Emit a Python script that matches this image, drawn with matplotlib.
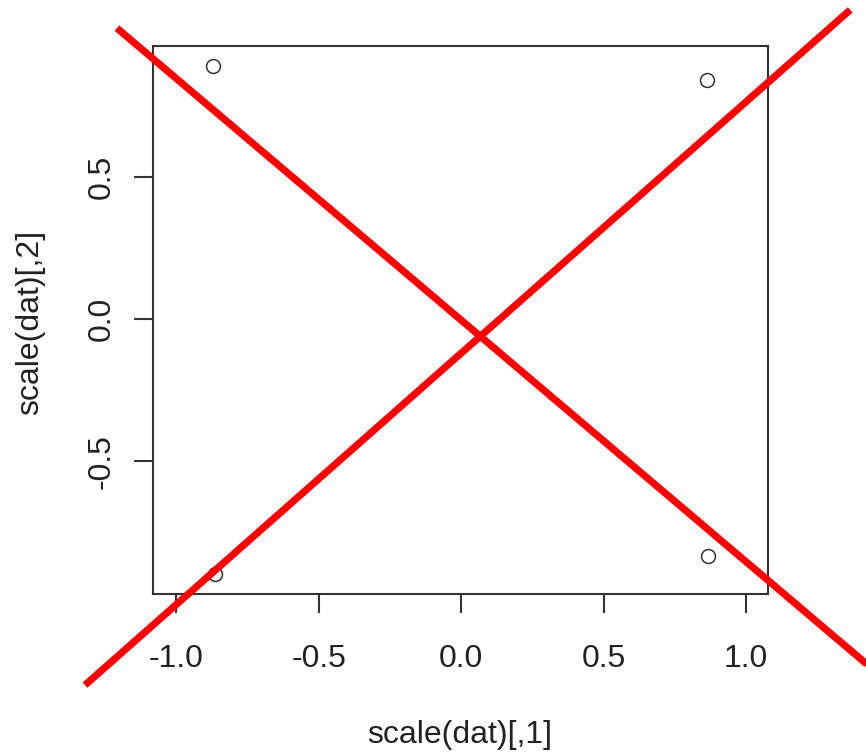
import numpy as np
import matplotlib.pyplot as plt

plt.rcParams['font.family'] = ['Liberation Sans', 'DejaVu Sans']

# scaled coordinates of the four observations
scaled_x = [-0.870, 0.863, 0.866, -0.863]
scaled_y = [0.887, 0.838, -0.831, -0.894]

# the two crossing strokes, as (x0, x1) and (y0, y1)
cross_a_x = [-1.208, 1.479]
cross_a_y = [1.021, -1.258]
cross_b_x = [-1.320, 1.366]
cross_b_y = [-1.285, 1.085]

x_ticks = [-1.0, -0.5, 0.0, 0.5, 1.0]
y_ticks = [-0.5, 0.0, 0.5]

fig = plt.figure(figsize=(8.66, 7.53), dpi=100)
ax = fig.add_axes([153 / 866, 1 - 594 / 753, 615 / 866, 548 / 753])

ax.plot(scaled_x, scaled_y, linestyle='none', marker='o', markersize=10,
        markerfacecolor='none', markeredgecolor='#333333', markeredgewidth=1.1)

# y range padded by 4% like R, x range widened so units are equal (asp = 1)
ymin, ymax = min(scaled_y), max(scaled_y)
pad = 0.04 * (ymax - ymin)
ymin, ymax = ymin - pad, ymax + pad
xc = (min(scaled_x) + max(scaled_x)) / 2
half_w = (ymax - ymin) * (615 / 548) / 2
ax.set_xlim(xc - half_w, xc + half_w)
ax.set_ylim(ymin, ymax)

for lx, ly in [(cross_a_x, cross_a_y), (cross_b_x, cross_b_y)]:
    ax.plot(lx, ly, color='#ff0000', linewidth=5.2, solid_capstyle='butt',
            clip_on=False, zorder=5)

for s in ax.spines.values():
    s.set_color('#333333')
    s.set_linewidth(1.5)

ax.set_xticks(x_ticks)
ax.set_yticks(y_ticks)
ax.set_xticklabels([f'{v:.1f}' for v in x_ticks])
ax.set_yticklabels([f'{v:.1f}' for v in y_ticks])
ax.tick_params(direction='out', length=14, width=1.5, color='#333333',
               labelsize=23, labelcolor='#222222')
ax.tick_params(axis='x', pad=22)
ax.tick_params(axis='y', pad=12)
plt.setp(ax.get_yticklabels(), rotation=90, va='center')

fig.text(460 / 866, 1 - 735 / 753, 'scale(dat)[,1]', ha='center', va='center',
         fontsize=23, color='#222222')
fig.text(30 / 866, 1 - 322 / 753, 'scale(dat)[,2]', ha='center', va='center',
         fontsize=23, color='#222222', rotation=90)

fig.savefig('out.png', dpi=100)
